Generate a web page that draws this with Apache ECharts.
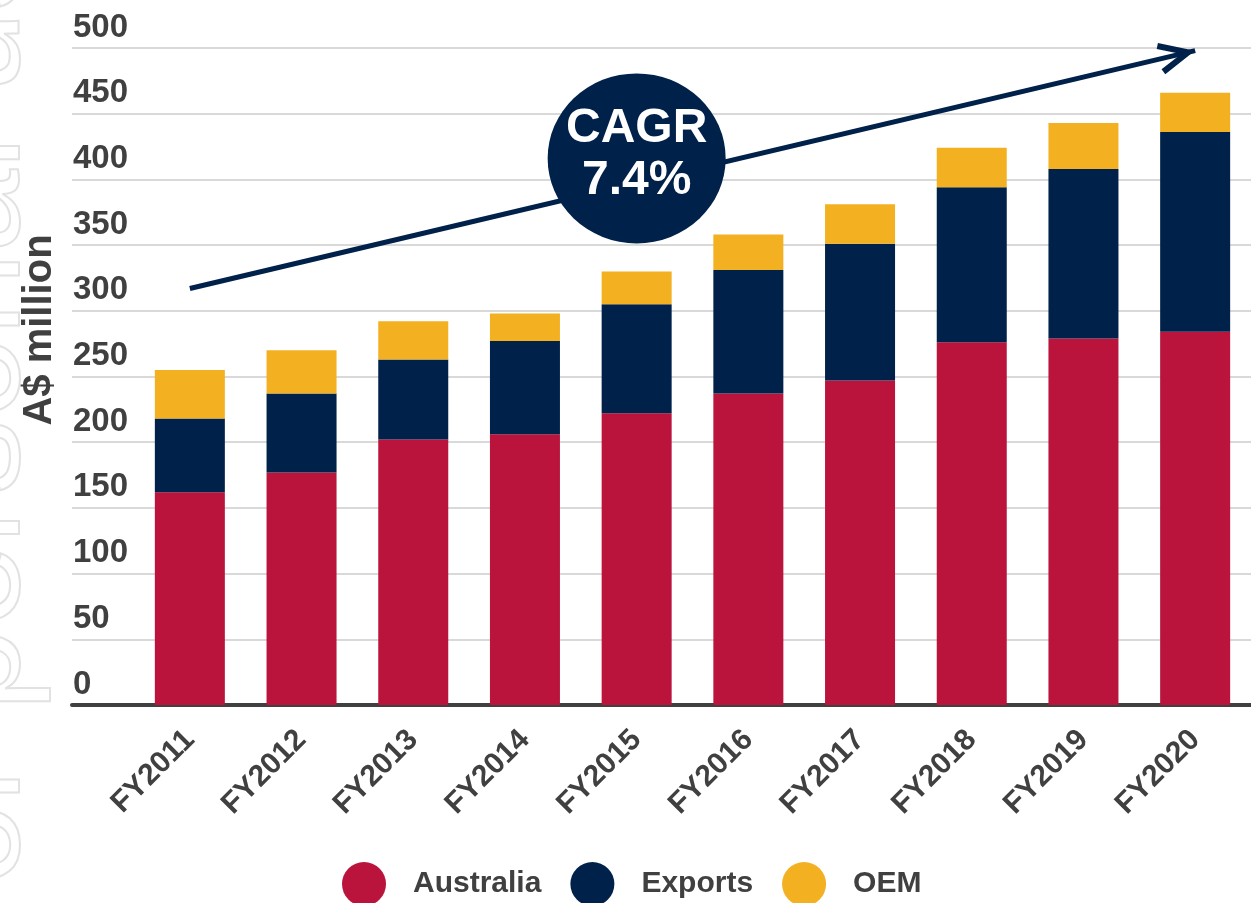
<!DOCTYPE html>
<html>
<head>
<meta charset="utf-8">
<title>A$ million</title>
<script src="https://cdn.jsdelivr.net/npm/echarts@6/dist/echarts.min.js"></script>
<style>
  html, body { margin: 0; padding: 0; background: #fff; }
  #chart1 { width: 1251px; height: 903px; }
</style>
</head>
<body>
<div id="chart1"></div>
<script>
var years = ['FY2011', 'FY2012', 'FY2013', 'FY2014', 'FY2015', 'FY2016', 'FY2017', 'FY2018', 'FY2019', 'FY2020'];
var australia = [162, 177, 202, 206, 222, 237, 247, 276, 279, 284];
var exportsData = [56, 60, 61, 71, 83, 94, 104, 118, 129, 152];
var oem = [37, 33, 29, 21, 25, 27, 30, 30, 35, 30];
var yTicks = { min: 0, max: 500, interval: 50 };
var cagrText = 'CAGR\n7.4%';
var trendFrom = ['FY2011', 317];
var trendTo = ['FY2020', 498];
var badgeAt = ['FY2015', 416];

var font = "'Liberation Sans', Arial, sans-serif";
var red = '#BA133C';
var navy = '#00214A';
var gold = '#F3B021';
var grey = '#404040';

// open chevron, tip at the centre of its box so it sits on the line end
var chevron = 'path://M16,0 L32,34 L26.5,36.5 L16,14 L5.5,36.5 L0,34 Z M16,-37 L16,-37';

var myChart1 = echarts.init(document.getElementById('chart1'));

var option1 = {
    animation: false,
    textStyle: { fontFamily: font },
    graphic: [
        {
            type: 'text',
            x: 53,
            y: 978,
            rotation: Math.PI / 2,
            silent: true,
            z: -1,
            style: {
                text: 'For personal use only',
                font: '150px ' + font,
                fill: 'rgba(0,0,0,0)',
                stroke: '#e2e2e2',
                lineWidth: 2,
                align: 'left',
                verticalAlign: 'bottom'
            }
        },
        {
            type: 'text',
            x: 40,
            y: 330,
            rotation: Math.PI / 2,
            style: {
                text: 'A$ million',
                font: 'bold 40px ' + font,
                fill: grey,
                align: 'center',
                verticalAlign: 'middle'
            }
        }
    ],
    legend: {
        data: ['Australia', 'Exports', 'OEM'],
        left: 337,
        top: 857,
        icon: 'circle',
        itemWidth: 44,
        itemHeight: 44,
        itemGap: 29,
        textStyle: {
            fontFamily: font,
            fontSize: 30,
            fontWeight: 'bold',
            color: grey,
            padding: [0, 0, 0, 22]
        }
    },
    grid: [
        { left: 72, right: 0, top: 48, bottom: 198 },
        { left: 134, width: 1120, top: 48, bottom: 198 }
    ],
    xAxis: [
        {
            gridIndex: 0,
            type: 'value',
            min: 0,
            max: 1,
            axisLine: { show: true, lineStyle: { color: grey, width: 4 } },
            axisTick: { show: false },
            axisLabel: { show: false },
            splitLine: { show: false }
        },
        {
            gridIndex: 1,
            type: 'category',
            data: years,
            axisLine: { show: false },
            axisTick: { show: false },
            axisLabel: {
                rotate: 45,
                margin: 30,
                interval: 0,
                fontFamily: font,
                fontSize: 30,
                fontWeight: 'bold',
                color: grey
            }
        }
    ],
    yAxis: [
        {
            gridIndex: 0,
            type: 'value',
            min: yTicks.min,
            max: yTicks.max,
            interval: yTicks.interval,
            axisLine: { show: false },
            axisTick: { show: false },
            splitLine: { lineStyle: { color: '#d9d9d9', width: 2 } },
            axisLabel: {
                inside: true,
                margin: 1,
                align: 'left',
                verticalAlign: 'bottom',
                padding: [0, 0, 4, 0],
                fontFamily: font,
                fontSize: 33,
                fontWeight: 'bold',
                color: grey
            }
        },
        {
            gridIndex: 1,
            type: 'value',
            min: yTicks.min,
            max: yTicks.max,
            show: false
        }
    ],
    series: [
        {
            name: 'Australia',
            type: 'bar',
            stack: 'total',
            xAxisIndex: 1,
            yAxisIndex: 1,
            barWidth: 70,
            itemStyle: { color: red },
            data: australia,
            markLine: {
                silent: true,
                z: 5,
                label: { show: false },
                lineStyle: { color: navy, width: 5, type: 'solid' },
                data: [
                    [
                        { coord: trendFrom, symbol: 'none' },
                        { coord: trendTo, symbol: chevron, symbolSize: [32, 74] }
                    ]
                ]
            }
        },
        {
            name: 'Exports',
            type: 'bar',
            stack: 'total',
            xAxisIndex: 1,
            yAxisIndex: 1,
            barWidth: 70,
            itemStyle: { color: navy },
            data: exportsData
        },
        {
            name: 'OEM',
            type: 'bar',
            stack: 'total',
            xAxisIndex: 1,
            yAxisIndex: 1,
            barWidth: 70,
            itemStyle: { color: gold },
            data: oem,
            markPoint: {
                silent: true,
                z: 8,
                data: [
                    {
                        coord: badgeAt,
                        symbol: 'circle',
                        symbolSize: [178, 170],
                        itemStyle: { color: navy },
                        label: {
                            show: true,
                            position: 'inside',
                            offset: [0, -4],
                            formatter: cagrText,
                            color: '#fff',
                            fontFamily: font,
                            fontSize: 48,
                            fontWeight: 'bold',
                            lineHeight: 52
                        }
                    }
                ]
            }
        }
    ]
};
myChart1.setOption(option1);

window.onresize = function () {
    myChart1.resize();
}
</script>
</body>
</html>
